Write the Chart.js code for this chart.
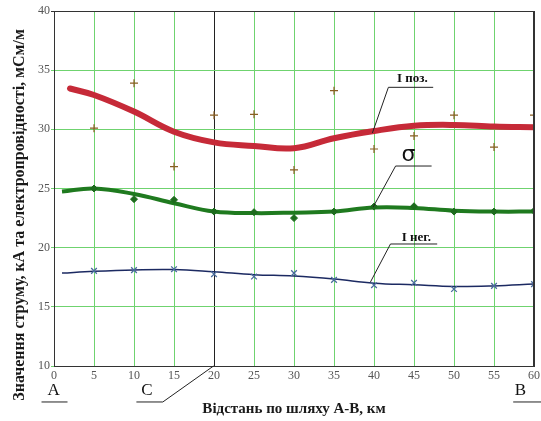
<!DOCTYPE html>
<html>
<head>
<meta charset="utf-8">
<script src="https://cdn.jsdelivr.net/npm/chart.js@4/dist/chart.umd.min.js"></script>
<style>
html,body{margin:0;padding:0;background:#fff;}
#wrap{width:541px;height:421px;position:relative;}
</style>
</head>
<body>
<div id="wrap"><canvas id="c"></canvas></div>
<script>
// ---- data ----
const curveX      = [2, 5, 10, 15, 20, 25, 30, 35, 40, 45, 50, 55, 60];
const iPozCurve   = [33.45, 32.9, 31.5, 29.8, 28.9, 28.6, 28.4, 29.25, 29.86, 30.3, 30.37, 30.23, 30.17];
const curveX2     = [1, 5, 10, 15, 20, 25, 30, 35, 40, 45, 50, 55, 60];
const sigmaCurve  = [24.74, 25.0, 24.54, 23.76, 23.05, 22.92, 22.96, 23.05, 23.4, 23.36, 23.13, 23.05, 23.05];
const iNegCurve   = [17.85, 18.0, 18.12, 18.15, 17.96, 17.72, 17.6, 17.35, 17.0, 16.86, 16.72, 16.77, 16.92];
const measX       = [5, 10, 15, 20, 25, 30, 35, 40, 45, 50, 55, 60];
const iPozPoints  = [30.1, 33.9, 26.85, 31.2, 31.27, 26.57, 33.27, 28.34, 29.44, 31.2, 28.5, 31.2];
const sigmaPoints = [25.0, 24.1, 24.04, 23.05, 23.0, 22.5, 23.05, 23.47, 23.5, 23.05, 23.05, 23.1];
const iNegPoints  = [18.04, 18.1, 18.18, 17.76, 17.56, 17.85, 17.28, 16.83, 17.03, 16.5, 16.77, 16.92];
const xTicks      = [0, 5, 10, 15, 20, 25, 30, 35, 40, 45, 50, 55, 60];
const yTicks      = [10, 15, 20, 25, 30, 35, 40];
const xTitle = 'Відстань по шляху А-В, км';
const yTitle = 'Значення струму, кА та електропровідності, мСм/м';

const pts = (xs, ys) => xs.map((x, i) => ({x: x, y: ys[i]}));

// annotation callouts (data coordinates)
const callouts = [
  {text: 'I поз.', font: 'bold 13px "Liberation Serif"', tx: 44.8, ty: 34.25, ux1: 41.8, ux2: 47.4, uy: 33.55, lx: 39.8, ly: 29.69},
  {text: 'σ', font: '22px "DejaVu Sans"', tx: 44.3, ty: 27.83, ux1: 42.7, ux2: 47.2, uy: 26.9, lx: 39.9, ly: 23.44},
  {text: 'I нег.', font: 'bold 13px "Liberation Serif"', tx: 45.3, ty: 20.82, ux1: 42.06, ux2: 47.9, uy: 20.31, lx: 39.56, ly: 17.1},
  {text: 'C', font: '17px "Liberation Serif"', tx: 11.6, ty: 7.89, ux1: 10.3, ux2: 13.6, uy: 6.96, lx: 19.94, ly: 10},
  {text: 'A', font: '17px "Liberation Serif"', tx: -0.06, ty: 7.89, ux1: -1.56, ux2: 1.69, uy: 6.96},
  {text: 'B', font: '17px "Liberation Serif"', tx: 58.3, ty: 7.89, ux1: 57.4, ux2: 60.9, uy: 6.96}
];

const GRID = '#6fd36f';

const annotate = {
  id: 'annotate',
  afterDraw(chart) {
    const {ctx, chartArea: a, scales: {x, y}} = chart;
    ctx.save();
    // top & right frame
    ctx.strokeStyle = '#333';
    ctx.lineWidth = 1;
    ctx.beginPath();
    ctx.moveTo(a.left, a.top + 0.5); ctx.lineTo(a.right, a.top + 0.5);
    ctx.moveTo(a.right - 0.5, a.top); ctx.lineTo(a.right - 0.5, a.bottom);
    ctx.stroke();
    // callouts
    callouts.forEach(c => {
      ctx.strokeStyle = '#222';
      ctx.lineWidth = 1;
      ctx.beginPath();
      const uy = y.getPixelForValue(c.uy);
      ctx.moveTo(x.getPixelForValue(c.ux1), uy);
      ctx.lineTo(x.getPixelForValue(c.ux2), uy);
      if (c.lx !== undefined) {
        const sx = c.text === 'C' ? x.getPixelForValue(c.ux2) : x.getPixelForValue(c.ux1);
        ctx.moveTo(sx, uy);
        ctx.lineTo(x.getPixelForValue(c.lx), y.getPixelForValue(c.ly));
      }
      ctx.stroke();
      ctx.fillStyle = '#111';
      ctx.font = c.font;
      ctx.textAlign = 'center';
      ctx.textBaseline = 'middle';
      ctx.fillText(c.text, x.getPixelForValue(c.tx), y.getPixelForValue(c.ty));
    });
    // axis titles
    ctx.fillStyle = '#1a1a1a';
    ctx.font = 'bold 15px "Liberation Serif"';
    ctx.textAlign = 'center';
    ctx.textBaseline = 'middle';
    ctx.fillText(xTitle, 294, 409);
    ctx.translate(20, 215);
    ctx.rotate(-Math.PI / 2);
    ctx.font = 'bold 16px "Liberation Serif"';
    ctx.fillText(yTitle, 0, 0);
    ctx.restore();
  }
};

new Chart(document.getElementById('c'), {
  type: 'scatter',
  data: {
    datasets: [
      {data: pts(curveX, iPozCurve), showLine: true, borderColor: '#c62a38', borderWidth: 6, pointRadius: 0, tension: 0.4, borderCapStyle: 'round', order: 3},
      {data: pts(measX, iPozPoints), pointStyle: 'cross', pointRadius: 4, borderColor: '#8a5e22', borderWidth: 1.2, order: 1},
      {data: pts(curveX2, sigmaCurve), showLine: true, borderColor: '#1f7a1f', borderWidth: 4, pointRadius: 0, tension: 0.4, order: 3},
      {data: pts(measX, sigmaPoints), pointStyle: 'rectRot', pointRadius: 3.5, backgroundColor: '#1d6b1d', borderColor: '#1d6b1d', borderWidth: 1, order: 1},
      {data: pts(curveX2, iNegCurve), showLine: true, borderColor: '#1c2a62', borderWidth: 1.5, pointRadius: 0, tension: 0.4, order: 3},
      {data: pts(measX, iNegPoints), pointStyle: 'crossRot', pointRadius: 4, borderColor: '#4a6c9c', borderWidth: 1.3, order: 1}
    ]
  },
  options: {
    responsive: true,
    maintainAspectRatio: false,
    animation: false,
    layout: {padding: {left: 0, right: 7, top: 11, bottom: 0}},
    plugins: {legend: {display: false}, tooltip: {enabled: false}},
    scales: {
      x: {
        type: 'linear', min: 0, max: 60,
        afterBuildTicks: s => { s.ticks = xTicks.map(v => ({value: v})); },
        afterFit: s => { s.height = 55; s.paddingLeft = 0; s.paddingRight = 0; },
        grid: {
          color: c => (c.tick && c.tick.value === 20) ? '#222' : (c.tick && c.tick.value === 60 ? '#333' : GRID),
          lineWidth: 1, drawTicks: false
        },
        border: {color: '#333', width: 1},
        ticks: {padding: 3, color: '#555', font: {family: 'Liberation Serif', size: 12}, maxRotation: 0, autoSkip: false}
      },
      y: {
        type: 'linear', min: 10, max: 40,
        afterBuildTicks: s => { s.ticks = yTicks.map(v => ({value: v})); },
        afterFit: s => { s.width = 54; s.paddingTop = 0; s.paddingBottom = 0; },
        grid: {
          color: c => (c.tick && c.tick.value === 40) ? '#333' : GRID,
          lineWidth: 1, drawTicks: true, tickLength: 3
        },
        border: {color: '#333', width: 1},
        ticks: {padding: 1, color: '#555', font: {family: 'Liberation Serif', size: 12}}
      }
    }
  },
  plugins: [annotate]
});
</script>
</body>
</html>
